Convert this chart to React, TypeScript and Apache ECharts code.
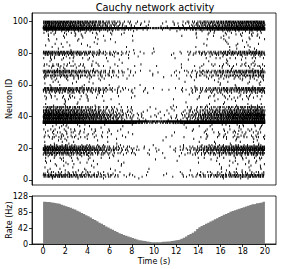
import React, { useEffect, useRef } from "react";
import * as echarts from "echarts";

// Population rate histogram (Hz), 0.2 s bins from 0 to 20 s
const binWidth = 0.2;
const rateBins = [
  113, 112, 112, 111, 110, 109, 108, 107, 105, 103,
  101, 99, 97, 94, 92, 89, 86, 83, 80, 77,
  74, 71, 67, 64, 61, 57, 54, 51, 47, 44,
  41, 38, 35, 32, 29, 27, 24, 22, 20, 18,
  16, 14, 12, 10, 9, 8, 7, 6, 5, 5,
  5, 5, 5, 6, 6, 7, 7, 8, 9, 10,
  11, 12, 14, 17, 20, 24, 27, 30, 34, 40,
  45, 48, 51, 54, 57, 60, 63, 66, 69, 72,
  75, 78, 80, 83, 86, 88, 90, 92, 94, 96,
  98, 100, 102, 104, 106, 107, 109, 110, 111, 113,
];

// Peak firing rate (Hz) of neurons with ID 1..100, read from row darkness
const neuronRates = [
  0.8, 9, 11, 4, 3, 1, 0.8, 0.5, 0.6, 0.8,
  0.8, 1.2, 0.8, 2, 1.2, 6, 11, 8, 18, 15,
  12, 3, 0.6, 0.8, 0.6, 1.2, 3, 2, 1.5, 2.5,
  1.5, 2, 0.6, 1.2, 1.5, 120, 300, 14, 20, 16,
  20, 16, 9, 12, 5, 9, 0.8, 0.8, 0.5, 0.6,
  1.5, 1.5, 2, 1, 3, 7, 12, 10, 0.6, 0.8,
  0.5, 0.8, 0.8, 2, 3, 10, 2, 11, 10, 0.6,
  1.2, 3, 2.5, 0.6, 0.8, 0.8, 2, 1.2, 5, 12,
  10, 0.6, 0.4, 0.8, 0.6, 0.8, 0.5, 0.6, 0.8, 0.8,
  1.2, 1.5, 2, 3, 20, 250, 16, 10, 14, 16,
];

const xTicks = [0, 2, 4, 6, 8, 10, 12, 14, 16, 18, 20];
const neuronTicks = [0, 20, 40, 60, 80, 100];
const rateTicks = [0, 42, 85, 128];

const T_END = rateBins.length * binWidth;
const FONT = "DejaVu Sans";

function buildSpikeSegments(): number[][] {
  const maxRate = Math.max(...rateBins);
  const dt = 0.002;
  const mergeGap = 0.08;
  const out: number[][] = [];
  neuronRates.forEach((r, idx) => {
    const id = idx + 1;
    let acc = 0;
    let k = 0;
    // irregular (deterministic) inter-spike thresholds with mean 1
    const thr = () => 0.35 + 1.3 * ((k * 0.6180339 + id * 0.3772) % 1);
    let threshold = thr() * (0.2 + 0.8 * ((id * 0.7548) % 1));
    let segStart = -1;
    let last = -1;
    const steps = Math.round(T_END / dt);
    for (let s = 0; s < steps; s++) {
      const t = s * dt;
      const bin = Math.min(rateBins.length - 1, Math.floor(t / binWidth));
      acc += r * (rateBins[bin] / maxRate) * dt;
      while (acc >= threshold) {
        acc -= threshold;
        k++;
        threshold = thr();
        if (last >= 0 && t - last < mergeGap) {
          last = t;
        } else {
          if (last >= 0) out.push([segStart, last, id]);
          segStart = t;
          last = t;
        }
      }
    }
    if (last >= 0) out.push([segStart, last, id]);
  });
  return out;
}

export default function App() {
  const ref = useRef<HTMLDivElement>(null);
  useEffect(() => {
    document.body.style.margin = "0";
    if (!ref.current) return;
    const chart = echarts.init(ref.current, undefined, { renderer: "svg" });
    const spikes = buildSpikeSegments();
    const histData = rateBins.map((v, i) => [i * binWidth, v]);
    histData.push([T_END, rateBins[rateBins.length - 1]]);
    const axisLineStyle = { color: "#000", width: 0.8 };
    const labelStyle = { fontFamily: FONT, fontSize: 8, color: "#000" };
    const nameStyle = { fontFamily: FONT, fontSize: 8, color: "#000" };
    const gridBase = {
      left: 32, width: 244, show: true, borderColor: "#000", borderWidth: 0.8,
      backgroundColor: "transparent", containLabel: false, outerBoundsMode: "none",
    };
    chart.setOption({
      animation: false,
      textStyle: { fontFamily: FONT },
      graphic: [
        {
          type: "text",
          x: 155,
          y: 7,
          style: {
            text: "Cauchy network activity",
            fontFamily: FONT,
            fontSize: 9.8,
            fill: "#000",
            align: "center",
            verticalAlign: "middle",
            textAlign: "center",
            textVerticalAlign: "middle",
          },
        },
      ],
      grid: [
        { ...gridBase, top: 13, height: 172 },
        { ...gridBase, top: 196, height: 48 },
      ],
      xAxis: [
        {
          type: "value", gridIndex: 0, min: -1, max: 21,
          axisLine: { show: false, onZero: false }, axisTick: { show: false }, axisLabel: { show: false }, splitLine: { show: false },
        },
        {
          type: "value", gridIndex: 1, min: -1, max: 21,
          name: "Time (s)", nameLocation: "middle", nameGap: 13, nameTextStyle: nameStyle,
          nameMoveOverlap: false,
          axisLine: { show: true, onZero: false, lineStyle: axisLineStyle },
          axisTick: { show: true, length: 3, inside: false, customValues: xTicks, lineStyle: axisLineStyle },
          axisLabel: { customValues: xTicks, margin: 3.5, ...labelStyle },
          splitLine: { show: false },
        },
      ],
      yAxis: [
        {
          type: "value", gridIndex: 0, min: -3.2, max: 105.5,
          name: "Neuron ID", nameLocation: "middle", nameGap: 18.5, nameTextStyle: nameStyle,
          nameMoveOverlap: false,
          axisLine: { show: true, onZero: false, lineStyle: axisLineStyle },
          axisTick: { show: true, length: 3, customValues: neuronTicks, lineStyle: axisLineStyle },
          axisLabel: { customValues: neuronTicks, margin: 4, ...labelStyle },
          splitLine: { show: false },
        },
        {
          type: "value", gridIndex: 1, min: 0, max: 128,
          name: "Rate (Hz)", nameLocation: "middle", nameGap: 18.5, nameTextStyle: nameStyle,
          nameMoveOverlap: false,
          axisLine: { show: true, onZero: false, lineStyle: axisLineStyle },
          axisTick: { show: true, length: 3, customValues: rateTicks, lineStyle: axisLineStyle },
          axisLabel: { customValues: rateTicks, margin: 4, ...labelStyle },
          splitLine: { show: false },
        },
      ],
      series: [
        {
          type: "custom",
          xAxisIndex: 0,
          yAxisIndex: 0,
          silent: true,
          progressive: 0,
          clip: true,
          data: spikes,
          encode: { x: [0, 1], y: 2 },
          renderItem: (params: any, api: any) => {
            const a = api.coord([api.value(0), api.value(2)]);
            const b = api.coord([api.value(1), api.value(2)]);
            return {
              type: "rect",
              shape: { x: a[0] - 0.45, y: a[1] - 1.1, width: b[0] - a[0] + 0.9, height: 2.2 },
              style: { fill: "#000" },
            };
          },
        },
        {
          type: "line",
          xAxisIndex: 1,
          yAxisIndex: 1,
          silent: true,
          step: "end",
          showSymbol: false,
          data: histData,
          lineStyle: { width: 0 },
          areaStyle: { color: "#808080", opacity: 1 },
        },
      ],
    });
    return () => chart.dispose();
  }, []);
  return <div ref={ref} style={{ width: 282, height: 269 }} />;
}
